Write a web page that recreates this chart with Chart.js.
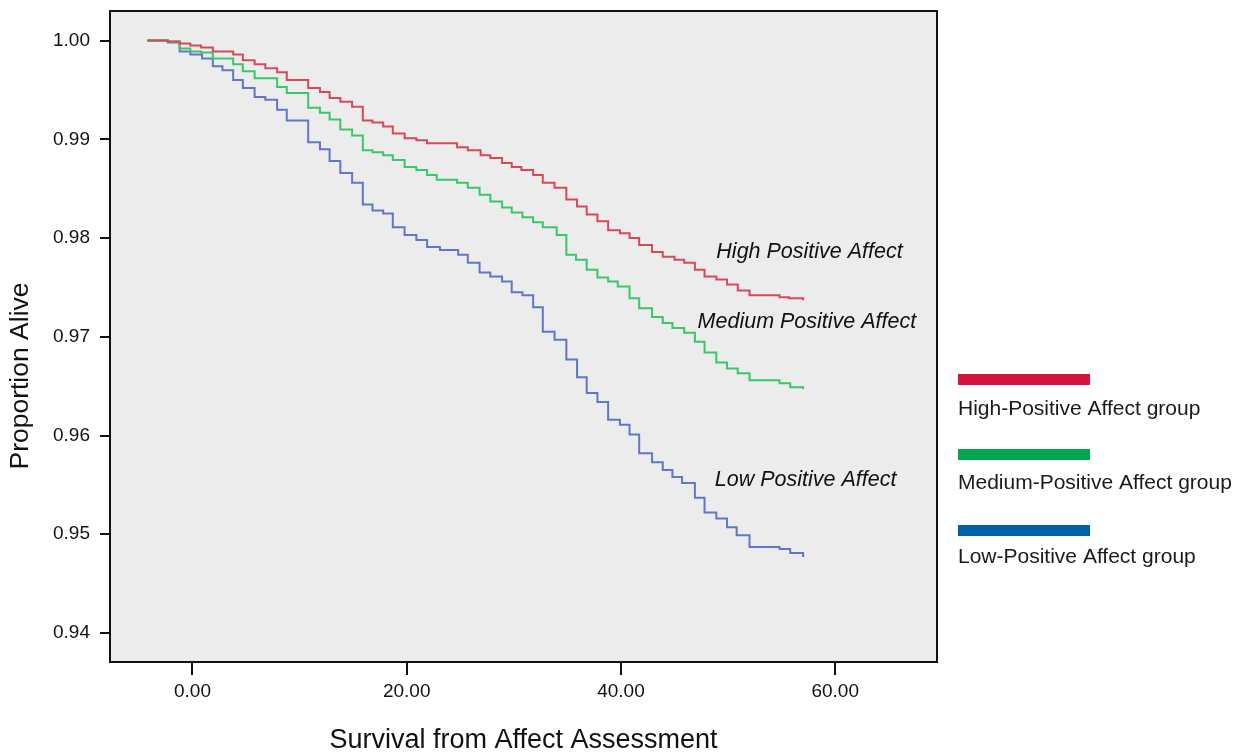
<!DOCTYPE html>
<html><head><meta charset="utf-8">
<script src="https://cdn.jsdelivr.net/npm/chart.js@4"></script>
<style>html,body{margin:0;padding:0;background:#fff}canvas{display:block}</style>
</head><body><canvas id="c" width="1252" height="752"></canvas>
<script>
// ---- data ----
const highT = [-4.2,-2.3,-1.2,-0.2,0.8,1.9,3.8,4.7,5.8,6.8,7.9,8.8,10.8,11.9,12.8,13.8,14.9,15.9,16.8,17.8,18.7,19.8,20.9,21.9,24.7,25.7,26.9,27.8,28.9,29.8,30.7,31.8,32.7,33.8,34.9,35.9,36.8,37.8,38.8,39.9,40.8,41.7,42.9,43.9,45.0,45.9,46.9,47.8,48.9,49.9,50.9,52.0,54.8,55.7,57.0];
const highS = [1.0000,0.9999,0.9997,0.9995,0.9993,0.9989,0.9986,0.9980,0.9976,0.9972,0.9968,0.9960,0.9952,0.9948,0.9942,0.9938,0.9933,0.9919,0.9917,0.9913,0.9906,0.9901,0.9899,0.9896,0.9892,0.9889,0.9884,0.9881,0.9876,0.9872,0.9869,0.9864,0.9856,0.9851,0.9839,0.9832,0.9824,0.9817,0.9808,0.9805,0.9800,0.9793,0.9786,0.9781,0.9778,0.9775,0.9768,0.9761,0.9758,0.9753,0.9747,0.9742,0.9740,0.9739,0.9737];

const medT = [-4.2,-2.3,-1.2,-0.2,0.8,1.9,3.8,4.7,5.8,7.9,8.8,10.8,11.9,12.8,13.8,14.9,15.9,16.8,17.8,18.7,19.8,20.9,21.9,22.8,24.7,25.7,26.8,27.8,28.9,29.8,30.8,31.8,32.7,34.0,34.9,35.8,36.8,37.8,38.8,39.7,40.8,41.7,42.9,43.9,44.8,45.9,46.9,47.8,48.9,49.9,50.9,52.0,54.8,55.8,57.0];
const medS = [1.0000,0.9999,0.9992,0.9989,0.9988,0.9982,0.9976,0.9969,0.9962,0.9953,0.9947,0.9932,0.9927,0.9920,0.9910,0.9904,0.9889,0.9887,0.9884,0.9879,0.9872,0.9869,0.9864,0.9859,0.9856,0.9851,0.9844,0.9837,0.9831,0.9826,0.9821,0.9816,0.9811,0.9803,0.9783,0.9778,0.9768,0.9760,0.9756,0.9751,0.9739,0.9729,0.9720,0.9714,0.9709,0.9704,0.9695,0.9684,0.9674,0.9668,0.9663,0.9656,0.9653,0.9649,0.9647];

const lowT = [-4.2,-2.3,-1.2,-0.2,0.9,1.9,2.8,3.8,4.7,5.8,6.8,7.9,8.8,10.8,11.9,12.8,13.8,14.9,15.9,16.8,17.8,18.7,19.8,20.9,21.9,23.1,24.8,25.7,26.8,27.8,28.9,29.8,30.8,31.8,32.7,33.8,34.9,35.9,36.8,37.8,38.8,39.9,40.8,41.7,42.9,43.9,44.8,45.7,46.9,47.8,48.9,49.9,50.8,52.0,54.8,55.8,57.0];
const lowS = [1.0000,0.9998,0.9989,0.9986,0.9982,0.9974,0.9970,0.9960,0.9952,0.9943,0.9940,0.9930,0.9919,0.9897,0.9890,0.9878,0.9866,0.9856,0.9834,0.9828,0.9825,0.9811,0.9803,0.9798,0.9791,0.9788,0.9783,0.9775,0.9765,0.9761,0.9756,0.9745,0.9742,0.9730,0.9705,0.9697,0.9677,0.9659,0.9643,0.9634,0.9616,0.9611,0.9601,0.9582,0.9573,0.9565,0.9558,0.9552,0.9537,0.9522,0.9516,0.9507,0.9499,0.9487,0.9485,0.9481,0.9477];

const groupNames = ["High-Positive Affect group","Medium-Positive Affect group","Low-Positive Affect group"];
const curveLabels = ["High Positive Affect","Medium Positive Affect","Low Positive Affect"];
const xTicks = [0,20,40,60];
const yTicks = [0.94,0.95,0.96,0.97,0.98,0.99,1.00];
const xTitle = "Survival from Affect Assessment";
const yTitle = "Proportion Alive";

// ---- presentation ----
const FAMILY = '"Liberation Sans", Arial, Helvetica, sans-serif';
const lineColors = ['rgb(214,74,88)','rgb(58,198,106)','rgb(98,118,200)'];
const legendColors = ['#d4143c','#00a651','#0061aa'];
const curveLabelAnchors = [{x:48.9,y:0.97859},{x:47.15,y:0.97150},{x:48.75,y:0.95549}];

const series = [[highT,highS],[medT,medS],[lowT,lowS]];

const decorPlugin = {
  id:'decor',
  beforeDatasetsDraw(chart){
    const {ctx, chartArea:a} = chart;
    ctx.save();
    ctx.fillStyle = '#ececec';
    ctx.fillRect(a.left, a.top, a.right-a.left, a.bottom-a.top);
    ctx.restore();
  },
  afterDatasetsDraw(chart){
    const {ctx, chartArea:a, scales} = chart;
    ctx.save();
    ctx.strokeStyle = '#111';
    ctx.lineWidth = 2;
    ctx.strokeRect(a.left, a.top, a.right-a.left, a.bottom-a.top);
    // curve labels
    ctx.fillStyle = '#111';
    ctx.font = 'italic 21.5px ' + FAMILY;
    ctx.textAlign = 'left';
    ctx.textBaseline = 'middle';
    curveLabels.forEach((t,i)=>{
      const p = curveLabelAnchors[i];
      ctx.fillText(t, scales.x.getPixelForValue(p.x), scales.y.getPixelForValue(p.y));
    });
    // legend
    const lx = a.right + 21;
    const swTops = [374,449,525];
    const txtMid = [409,483,557];
    ctx.font = '21px ' + FAMILY;
    groupNames.forEach((t,i)=>{
      ctx.fillStyle = legendColors[i];
      ctx.fillRect(lx, swTops[i], 132, 11);
      ctx.fillStyle = '#1a1a1a';
      ctx.fillText(t, lx, txtMid[i]);
    });
    // y title
    ctx.translate(21, 376);
    ctx.rotate(-Math.PI/2);
    ctx.textAlign = 'center';
    ctx.font = '26.5px ' + FAMILY;
    ctx.fillStyle = '#111';
    ctx.fillText(yTitle, 0, 0);
    ctx.restore();
  }
};

new Chart(document.getElementById('c'), {
  type:'line',
  data:{
    datasets: series.map((s,i)=>({
      label: groupNames[i],
      data: s[0].map((t,j)=>({x:t, y:s[1][j]})),
      borderColor: lineColors[i],
      borderWidth: 2,
      pointRadius: 0,
      stepped: 'before',
      fill: false,
      tension: 0
    }))
  },
  options:{
    responsive:false,
    animation:false,
    devicePixelRatio:1,
    layout:{padding:{top:11,right:315,left:0,bottom:0}},
    plugins:{legend:{display:false},tooltip:{enabled:false}},
    scales:{
      x:{
        type:'linear', min:-7.7, max:69.5,
        afterBuildTicks:s=>{ s.ticks = xTicks.map(v=>({value:v})); },
        afterFit:s=>{ s.height = 90; s.paddingLeft = 0; s.paddingRight = 0; },
        ticks:{callback:v=>Number(v).toFixed(2), font:{size:19,family:FAMILY}, color:'#111', padding:5, maxRotation:0, autoSkip:false},
        grid:{drawOnChartArea:false, drawTicks:true, tickLength:13, color:'#111', lineWidth:2},
        border:{display:false},
        title:{display:true, text:xTitle, font:{size:27,family:FAMILY,lineHeight:0.85}, color:'#111', padding:{top:0,bottom:0}}
      },
      y:{
        type:'linear', min:0.93706, max:1.0030,
        afterBuildTicks:s=>{ s.ticks = yTicks.map(v=>({value:v})); },
        afterFit:s=>{ s.width = 110; s.paddingTop = 0; s.paddingBottom = 0; },
        ticks:{callback:v=>Number(v).toFixed(2), font:{size:19,family:FAMILY}, color:'#111', padding:10, autoSkip:false},
        grid:{drawOnChartArea:false, drawTicks:true, tickLength:10, color:'#111', lineWidth:2},
        border:{display:false}
      }
    }
  },
  plugins:[decorPlugin]
});
</script>
</body></html>
